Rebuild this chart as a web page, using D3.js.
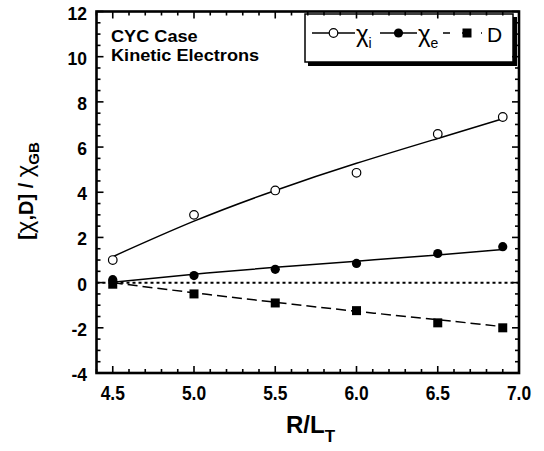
<!DOCTYPE html>
<html>
<head>
<meta charset="utf-8">
<script src="https://cdn.jsdelivr.net/npm/d3@7"></script>
<style>
  html, body { margin: 0; padding: 0; background: #fff; }
  svg { display: block; font-family: "Liberation Sans", Arial, Helvetica, sans-serif; }
</style>
</head>
<body>
<svg id="chart" width="544" height="451"></svg>
<script>
// R/L_T scan values
const rlt = [4.5, 5.0, 5.5, 6.0, 6.5, 6.9];

// simulated transport coefficients (gyro-Bohm units)
const chiIon = [1.0, 3.0, 4.08, 4.86, 6.58, 7.33];
const chiElec = [0.13, 0.31, 0.59, 0.85, 1.29, 1.59];
const diffPart = [-0.07, -0.5, -0.9, -1.24, -1.78, -2.0];

// smooth fit curves through each set
const chiIonFit = [1.15, 2.72, 4.08, 5.28, 6.38, 7.25];
const chiElecFit = [0.02, 0.37, 0.68, 0.95, 1.22, 1.47];
const diffPartFit = [0.0, -0.45, -0.87, -1.27, -1.64, -1.95];

// axis ticks
const xTicks = [4.5, 5.0, 5.5, 6.0, 6.5, 7.0];
const yTicks = [-4, -2, 0, 2, 4, 6, 8, 10, 12];

const svg = d3.select("#chart");
const plotL = 96.5, plotR = 519, plotT = 11.5, plotB = 373;

const x = d3.scaleLinear().domain([4.4, 7.0]).range([plotL, plotR]);
const y = d3.scaleLinear().domain([-4, 12]).range([plotB, plotT]);

const g = svg.append("g");

// zero reference line
g.append("line")
  .attr("x1", x(4.4)).attr("x2", x(7.0))
  .attr("y1", y(0)).attr("y2", y(0))
  .attr("stroke", "#000").attr("stroke-width", 2)
  .attr("stroke-dasharray", "3,3");

// fit curves
const line = d3.line().x(d => x(d[0])).y(d => y(d[1])).curve(d3.curveNatural);
function fitPath(vals, dash) {
  g.append("path")
    .datum(rlt.map((r, i) => [r, vals[i]]))
    .attr("d", line)
    .attr("fill", "none").attr("stroke", "#000").attr("stroke-width", 1.5)
    .attr("stroke-dasharray", dash || null);
}
fitPath(chiIonFit);
fitPath(chiElecFit);
fitPath(diffPartFit, "10,5");

// data markers
g.selectAll(".ion").data(rlt.map((r, i) => [r, chiIon[i]])).enter()
  .append("circle")
  .attr("cx", d => x(d[0])).attr("cy", d => y(d[1])).attr("r", 4.3)
  .attr("fill", "#fff").attr("stroke", "#000").attr("stroke-width", 1.2);
g.selectAll(".elec").data(rlt.map((r, i) => [r, chiElec[i]])).enter()
  .append("circle")
  .attr("cx", d => x(d[0])).attr("cy", d => y(d[1])).attr("r", 4.6)
  .attr("fill", "#000");
g.selectAll(".part").data(rlt.map((r, i) => [r, diffPart[i]])).enter()
  .append("rect")
  .attr("x", d => x(d[0]) - 4.5).attr("y", d => y(d[1]) - 4.5)
  .attr("width", 9).attr("height", 9)
  .attr("fill", "#000");

// legend box with drop shadow
const lg = svg.append("g");
lg.append("rect").attr("x", 308).attr("y", 17).attr("width", 209).attr("height", 49).attr("fill", "#000");
lg.append("rect").attr("x", 305).attr("y", 14).attr("width", 208).attr("height", 48)
  .attr("fill", "#fff").attr("stroke", "#000").attr("stroke-width", 1.5);

const ly = 33;
lg.append("line").attr("x1", 312).attr("x2", 355).attr("y1", ly).attr("y2", ly).attr("stroke", "#000").attr("stroke-width", 1.5);
lg.append("circle").attr("cx", 333.5).attr("cy", ly).attr("r", 4.3).attr("fill", "#fff").attr("stroke", "#000").attr("stroke-width", 1.2);
lg.append("line").attr("x1", 380).attr("x2", 417).attr("y1", ly).attr("y2", ly).attr("stroke", "#000").attr("stroke-width", 1.5);
lg.append("circle").attr("cx", 398.5).attr("cy", ly).attr("r", 4.6).attr("fill", "#000");
lg.append("line").attr("x1", 443).attr("x2", 482).attr("y1", ly).attr("y2", ly).attr("stroke", "#000").attr("stroke-width", 1.5).attr("stroke-dasharray", "7,12");
lg.append("rect").attr("x", 462.5).attr("y", ly - 4.5).attr("width", 9).attr("height", 9).attr("fill", "#000");

function legendText(xp, main, sub, size) {
  const t = lg.append("text").attr("x", xp).attr("y", 42).attr("font-size", size).attr("font-weight", "normal");
  t.append("tspan").text(main);
  if (sub) t.append("tspan").attr("dy", 6).attr("font-size", 14).text(sub);
}
legendText(356, "χ", "i", 24);
legendText(418, "χ", "e", 24);
legendText(487, "D", null, 21);

// frame and ticks on all four sides, pointing inward
const ax = svg.append("g").attr("stroke", "#000");
const xMinor = d3.range(44, 71).map(v => v / 10);
const yMinor = d3.range(-8, 25).map(v => v / 2);
xMinor.forEach(v => {
  const major = xTicks.some(t => Math.abs(t - v) < 1e-6);
  const len = major ? 7 : 4;
  ax.append("line").attr("x1", x(v)).attr("x2", x(v)).attr("y1", plotB).attr("y2", plotB - len).attr("stroke-width", 1.6);
  ax.append("line").attr("x1", x(v)).attr("x2", x(v)).attr("y1", plotT).attr("y2", plotT + len).attr("stroke-width", 1.6);
});
yMinor.forEach(v => {
  const major = yTicks.some(t => Math.abs(t - v) < 1e-6);
  const len = major ? 7 : 4;
  ax.append("line").attr("y1", y(v)).attr("y2", y(v)).attr("x1", plotL).attr("x2", plotL + len).attr("stroke-width", 1.6);
  ax.append("line").attr("y1", y(v)).attr("y2", y(v)).attr("x1", plotR).attr("x2", plotR - len).attr("stroke-width", 1.6);
});
ax.append("rect").attr("x", plotL).attr("y", plotT).attr("width", plotR - plotL).attr("height", plotB - plotT)
  .attr("fill", "none").attr("stroke-width", 2.6);

// tick labels (x labels in a condensed bold face)
svg.append("g").selectAll("text").data(xTicks).enter().append("text")
  .attr("transform", d => `translate(${x(d)},400) scale(0.87,1)`)
  .attr("text-anchor", "middle").attr("font-size", 20).attr("font-weight", "bold")
  .text(d => d3.format(".1f")(d));
svg.append("g").selectAll("text").data(yTicks).enter().append("text")
  .attr("x", 87).attr("y", d => y(d) + 8)
  .attr("text-anchor", "end").attr("font-size", 17.5).attr("font-weight", "bold")
  .text(d => d);

// annotation
svg.append("text").attr("transform", "translate(111,42) scale(1.1,1)")
  .attr("font-size", 16.5).attr("font-weight", "bold").text("CYC Case");
svg.append("text").attr("transform", "translate(111,60.5) scale(1.1,1)")
  .attr("font-size", 16.5).attr("font-weight", "bold").text("Kinetic Electrons");

// axis titles
const xt = svg.append("text").attr("x", 286).attr("y", 433).attr("font-size", 24).attr("font-weight", "bold");
xt.append("tspan").text("R/L");
xt.append("tspan").attr("dy", 9).attr("font-size", 17).text("T");

const yt = svg.append("text").attr("transform", "translate(33,191) rotate(-90)")
  .attr("text-anchor", "middle").attr("font-size", 20).attr("font-weight", "bold");
yt.append("tspan").text("[");
yt.append("tspan").attr("font-weight", "normal").attr("font-size", 24).text("χ");
yt.append("tspan").text(",D] / ");
yt.append("tspan").attr("font-weight", "normal").attr("font-size", 24).text("χ");
yt.append("tspan").attr("dy", 6).attr("font-size", 15).text("GB");
</script>
</body>
</html>
